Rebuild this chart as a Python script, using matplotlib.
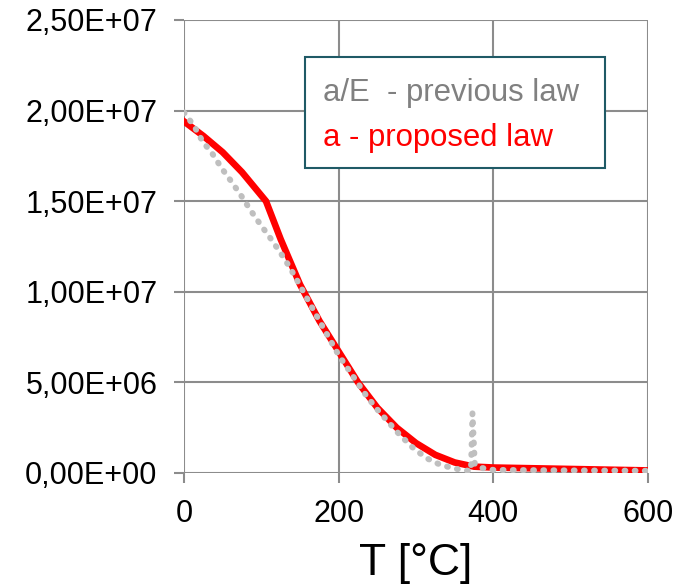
import numpy as np
import matplotlib.pyplot as plt

# previous law a/E (grey dotted)
t_prev = [0, 13, 24, 37, 49, 61, 74, 86, 99, 111, 124, 136, 146, 175, 200, 236, 250,
          263, 278, 295, 313, 331, 350, 371, 373, 376, 382, 400, 500, 600]
v_prev = [1.99e7, 1.915e7, 1.83e7, 1.76e7, 1.68e7, 1.61e7, 1.53e7, 1.45e7, 1.37e7,
          1.30e7, 1.22e7, 1.14e7, 1.065e7, 8.4e6, 6.5e6, 4.25e6, 3.5e6, 2.87e6, 2.15e6,
          1.43e6, 0.83e6, 0.46e6, 0.24e6, 0.1e6, 3.3e6, 0.5e6, 0.3e6, 0.17e6, 0.14e6, 0.12e6]

# proposed law a (red)
t_new = [0, 25, 50, 75, 106, 125, 150, 175, 200, 225, 250, 275, 300, 325, 350, 375,
         400, 500, 600]
v_new = [1.94e7, 1.86e7, 1.77e7, 1.66e7, 1.50e7, 1.29e7, 1.04e7, 8.4e6, 6.7e6, 5.0e6,
         3.6e6, 2.5e6, 1.65e6, 1.0e6, 0.58e6, 0.35e6, 0.3e6, 0.22e6, 0.14e6]

yticks = [0, 5e6, 1e7, 1.5e7, 2e7, 2.5e7]
ylabels = ['0,00E+00', '5,00E+06', '1,00E+07', '1,50E+07', '2,00E+07', '2,50E+07']
xticks = [0, 200, 400, 600]

plt.rcParams['font.family'] = ['Liberation Sans', 'DejaVu Sans']

fig = plt.figure(figsize=(6.78, 5.84), dpi=100)
ax = fig.add_axes([0.2714, 0.1901, 0.6844, 0.7757])

ax.plot(t_new, v_new, color='#FF0000', lw=4.8, solid_joinstyle='miter', zorder=3)
ax.plot(t_prev, v_prev, color='#BFBFBF', lw=4.3, linestyle=(0, (0.15, 1.55)),
        dash_capstyle='round', zorder=4)

ax.set_xlim(0, 600)
ax.set_ylim(0, 2.5e7)
ax.set_xticks(xticks)
ax.set_yticks(yticks)
ax.set_yticklabels(ylabels)
ax.grid(True, color='#8C8C8C', lw=1.5)
ax.set_axisbelow(True)
for s in ax.spines.values():
    s.set_visible(False)
ax.tick_params(colors='#8C8C8C', labelcolor='black', labelsize=22, length=7,
               width=1.5, pad=12)
ax.set_xlabel('T [°C]', fontsize=32, labelpad=10)

# legend box
legend_box = plt.Rectangle((121 / 464, 1 - 148 / 453), 300 / 464, 111 / 453,
                           transform=ax.transAxes, facecolor='white',
                           edgecolor='#1F5A66', lw=1.5, zorder=5)
ax.add_patch(legend_box)
ax.text(0.30, 0.839, 'a/E  - previous law', transform=ax.transAxes, fontsize=22.4,
        color='#808080', va='center', ha='left', zorder=6)
ax.text(0.30, 0.739, 'a - proposed law', transform=ax.transAxes, fontsize=22.4,
        color='#FF0000', va='center', ha='left', zorder=6)

fig.savefig('out.png', dpi=100)
